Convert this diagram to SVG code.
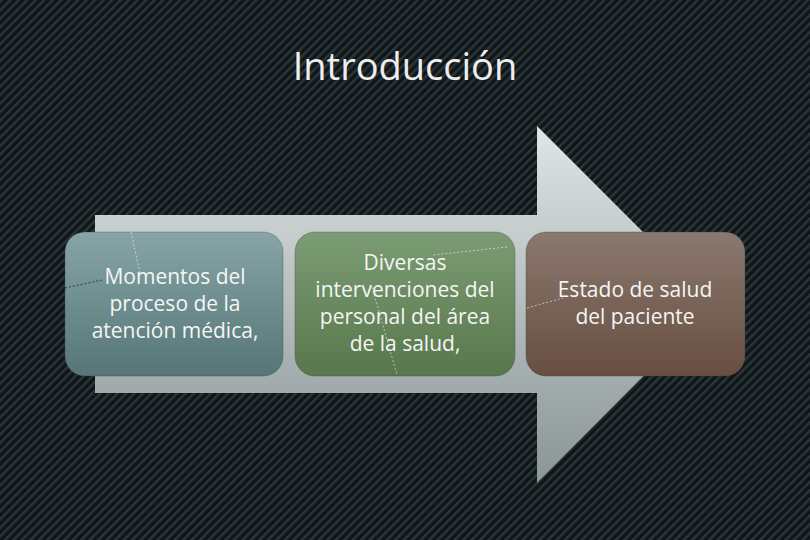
<svg xmlns="http://www.w3.org/2000/svg" width="810" height="540" viewBox="0 0 810 540">
<defs>
<pattern id="stripes" width="6" height="6" patternUnits="userSpaceOnUse" patternTransform="rotate(45)">
<rect width="6" height="6" fill="#0f1619"/>
<rect width="2.6" height="6" fill="#2b3437"/>
</pattern>
<linearGradient id="arrowG" x1="0" y1="125" x2="0" y2="483" gradientUnits="userSpaceOnUse">
<stop offset="0" stop-color="#e0e5e5"/>
<stop offset="1" stop-color="#8a9595"/>
</linearGradient>
<linearGradient id="g1" x1="0" y1="0" x2="0" y2="1">
<stop offset="0" stop-color="#87a5a7"/>
<stop offset="1" stop-color="#557577"/>
</linearGradient>
<linearGradient id="g2" x1="0" y1="0" x2="0" y2="1">
<stop offset="0" stop-color="#7c9c74"/>
<stop offset="1" stop-color="#58774c"/>
</linearGradient>
<linearGradient id="g3" x1="0" y1="0" x2="0" y2="1">
<stop offset="0" stop-color="#8b786e"/>
<stop offset="1" stop-color="#674e41"/>
</linearGradient>
</defs>
<style>
.box{stroke:#3a4446;stroke-opacity:0.35;stroke-width:1}
.lbl{font-family:"Open Sans","Liberation Sans",Arial,sans-serif;font-size:21px;fill:#f4f6f4;text-anchor:middle}
.title{font-family:"Open Sans","Liberation Sans",Arial,sans-serif;font-size:38px;fill:#eeeeee;text-anchor:middle}
.dl{fill:none;stroke:#ffffff;stroke-opacity:0.55;stroke-width:1;stroke-dasharray:2 2}
.dd{fill:none;stroke:#000000;stroke-opacity:0.6;stroke-width:1;stroke-dasharray:2 2}
</style>
<rect width="810" height="540" fill="url(#stripes)"/>
<text class="title" x="405" y="80">Introducción</text>
<g id="arrow">
<polygon points="95,215 537,215 537,126 715,304 537,483 537,393 95,393" fill="url(#arrowG)"/>
</g>
<g id="node1">
<rect class="box" x="65" y="232" width="218" height="144" rx="20" fill="url(#g1)"/>
<text class="lbl" x="175" y="284">Momentos del</text>
<text class="lbl" x="175" y="311">proceso de la</text>
<text class="lbl" x="175" y="338">atención médica,</text>
</g>
<g id="node2">
<rect class="box" x="295" y="232" width="220" height="144" rx="20" fill="url(#g2)"/>
<text class="lbl" x="405" y="270">Diversas</text>
<text class="lbl" x="405" y="297">intervenciones del</text>
<text class="lbl" x="405" y="324">personal del área</text>
<text class="lbl" x="405" y="351">de la salud,</text>
</g>
<g id="node3">
<rect class="box" x="526" y="232" width="219" height="144" rx="20" fill="url(#g3)"/>
<text class="lbl" x="635" y="297">Estado de salud</text>
<text class="lbl" x="635" y="324">del paciente</text>
</g>
<g id="connectors">
<polyline class="dl" points="131,232 140,273"/>
<polyline class="dd" points="65,288 102,280"/>
<polyline class="dl" points="507,247 433,255"/>
<polyline class="dl" points="372,287 397,375"/>
<polyline class="dl" points="527,308 563,298"/>
</g>
</svg>
